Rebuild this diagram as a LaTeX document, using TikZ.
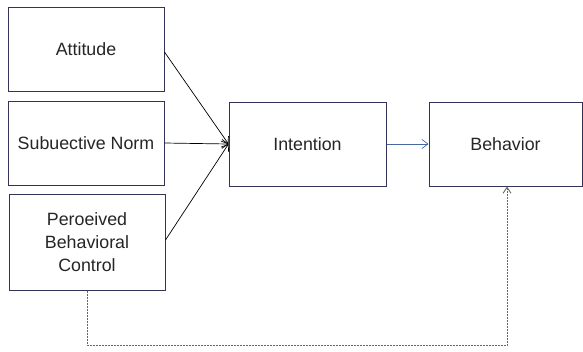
\documentclass[tikz,border=0pt]{standalone}
\usepackage{fontspec}
\setmainfont{Liberation Sans}
\usetikzlibrary{arrows.meta}
\begin{document}
\begin{tikzpicture}[x=1pt,y=-1pt,
  box/.style={draw=black!75!blue!60!gray, line width=1pt, fill=white, inner sep=0pt, align=center,
    font=\fontsize{17.8}{23}\selectfont, text=black!85},
  arr/.style={-{Straight Barb[length=6pt,width=9pt]}, line width=0.7pt},
  dsh/.style={dash pattern=on 2pt off 1pt, draw=black!60, line width=0.9pt}]
\useasboundingbox (0,0) rectangle (583,351);
\node[box, minimum width=156pt, minimum height=84pt] (att) at (86,49) {Attitude};
\node[box, minimum width=156pt, minimum height=84pt] (sn) at (86,143) {Subuective Norm};
\node[box, minimum width=156pt, minimum height=96pt] (pbc) at (87,242) {Peroeived\\Behavioral\\Control};
\node[box, minimum width=157pt, minimum height=84pt] (int) at (307.5,144) {Intention};
\node[box, minimum width=153pt, minimum height=84pt] (beh) at (505.5,144) {Behavior};
\coordinate (a1) at (att.east |- 0,52);
\coordinate (p1) at (pbc.east |- 0,240);
\draw[arr] (a1) -- (int.west);
\draw[arr] (sn.east) -- (int.west);
\draw[arr] (p1) -- (int.west);
\draw[arr, draw={rgb,255:red,70;green,105;blue,160}] (int.east) -- (beh.west);
\coordinate (d1) at (87,345);
\coordinate (d2) at (507,345);
\draw[dsh, -{Straight Barb[length=6pt,width=8pt]}] (pbc.south) -- (d1) -- (d2) -- (beh.south -| d2);
\end{tikzpicture}
\end{document}
